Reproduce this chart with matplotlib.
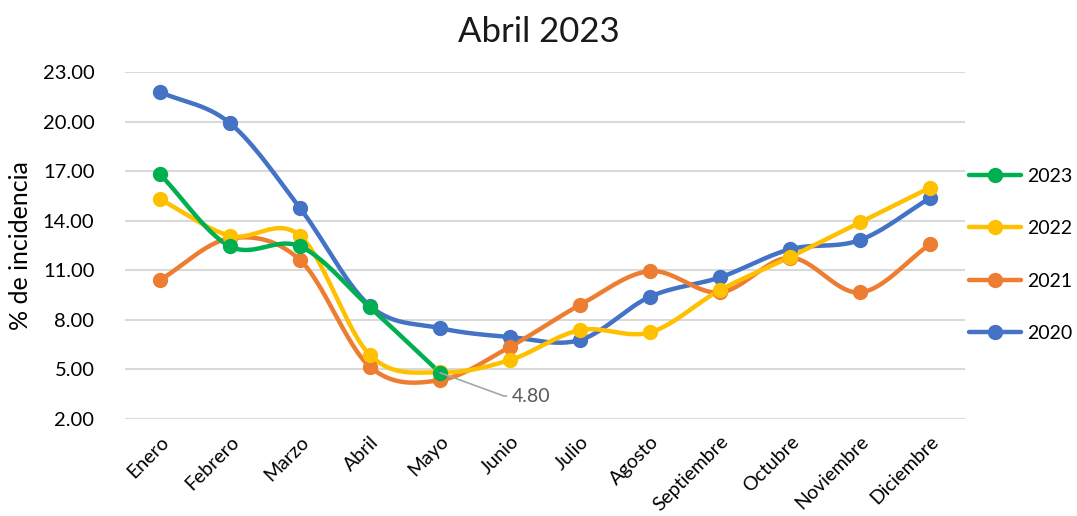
import numpy as np
import matplotlib
matplotlib.use("Agg")
import matplotlib.pyplot as plt

months = ["Enero", "Febrero", "Marzo", "Abril", "Mayo", "Junio", "Julio",
          "Agosto", "Septiembre", "Octubre", "Noviembre", "Diciembre"]
y2023 = [16.81, 12.45, 12.45, 8.75, 4.80]
y2022 = [15.30, 13.09, 13.09, 5.87, 4.82, 5.57, 7.38, 7.24, 9.80, 11.80, 13.90, 16.00]
y2021 = [10.41, 12.93, 11.62, 5.16, 4.35, 6.37, 8.90, 10.95, 9.66, 11.76, 9.66, 12.57]
y2020 = [21.79, 19.90, 14.77, 8.84, 7.50, 6.96, 6.78, 9.40, 10.57, 12.27, 12.83, 15.37]
yticks = [2, 5, 8, 11, 14, 17, 20, 23]

series = [("2023", y2023, "#00b050"), ("2022", y2022, "#ffc000"),
          ("2021", y2021, "#ed7d31"), ("2020", y2020, "#4472c4")]

plt.rcParams['font.family'] = ['Lato', 'DejaVu Sans']

def smooth(x, y, n=30):
    x = np.asarray(x, float); y = np.asarray(y, float)
    if len(x) < 3:
        return x, y
    px = np.concatenate([[2*x[0]-x[1]], x, [2*x[-1]-x[-2]]])
    py = np.concatenate([[2*y[0]-y[1]], y, [2*y[-1]-y[-2]]])
    xs, ys = [], []
    t = np.linspace(0, 1, n)
    for i in range(1, len(px)-2):
        p0, p1, p2, p3 = [np.array([px[j], py[j]]) for j in (i-1, i, i+1, i+2)]
        b1 = p1 + (p2 - p0) / 6
        b2 = p2 - (p3 - p1) / 6
        pts = ((1-t)**3)[:, None]*p1 + (3*(1-t)**2*t)[:, None]*b1 + \
              (3*(1-t)*t**2)[:, None]*b2 + (t**3)[:, None]*p2
        xs.append(pts[:, 0]); ys.append(pts[:, 1])
    return np.concatenate(xs), np.concatenate(ys)

fig = plt.figure(figsize=(10.77, 5.16), dpi=100)
ax = fig.add_axes([125/1077, 1-419/516, 840/1077, 347/516])

handles = []
for name, vals, col in reversed(series):
    x = np.arange(len(vals))
    sx, sy = smooth(x, vals)
    ax.plot(sx, sy, color=col, lw=3.2, solid_capstyle='round', zorder=3)
    ax.plot(x, vals, 'o', color=col, ms=10, zorder=4)
for name, vals, col in series:
    h, = ax.plot([], [], color=col, lw=3.2, marker='o', ms=10, label=name,
                 solid_capstyle='round')
    handles.append(h)

ax.set_xlim(-0.5, 11.5)
ax.set_ylim(2, 23)
ax.set_yticks(yticks)
ax.set_yticklabels([f"{v:.2f}" for v in yticks], fontsize=14.5)
ax.set_xticks(range(len(months)))
ax.set_xticklabels(months, rotation=45, ha='right', rotation_mode='anchor', fontsize=14)
ax.tick_params(axis='y', length=0, pad=22)
ax.tick_params(axis='x', length=0, pad=10)
ax.grid(axis='y', color='#d9d9d9', lw=1.5)
ax.set_axisbelow(True)
for s in ax.spines.values():
    s.set_visible(False)
ax.set_ylabel("% de incidencia", fontsize=18, labelpad=8)

ax.annotate(f"{y2023[4]:.2f}", xy=(4, y2023[4]), xytext=(5.03, 3.39),
            fontsize=14, color='#595959', va='center', ha='left',
            arrowprops=dict(arrowstyle='-', color='#a6a6a6', lw=1.2,
                            shrinkA=2, shrinkB=0,
                            connectionstyle='angle,angleA=0,angleB=-20,rad=0'),
            zorder=5)

fig.text(0.5, 1-32/516, "Abril 2023", fontsize=25, fontweight='normal',
         ha='center', va='center', color='#1a1a1a')

leg = fig.legend(handles=handles, loc='upper left', bbox_to_anchor=(961/1077, 1-160/516),
                 frameon=False, fontsize=14, handlelength=2.7, labelspacing=1.82,
                 handletextpad=0.3, borderaxespad=0)

fig.savefig("out.png", dpi=100)
